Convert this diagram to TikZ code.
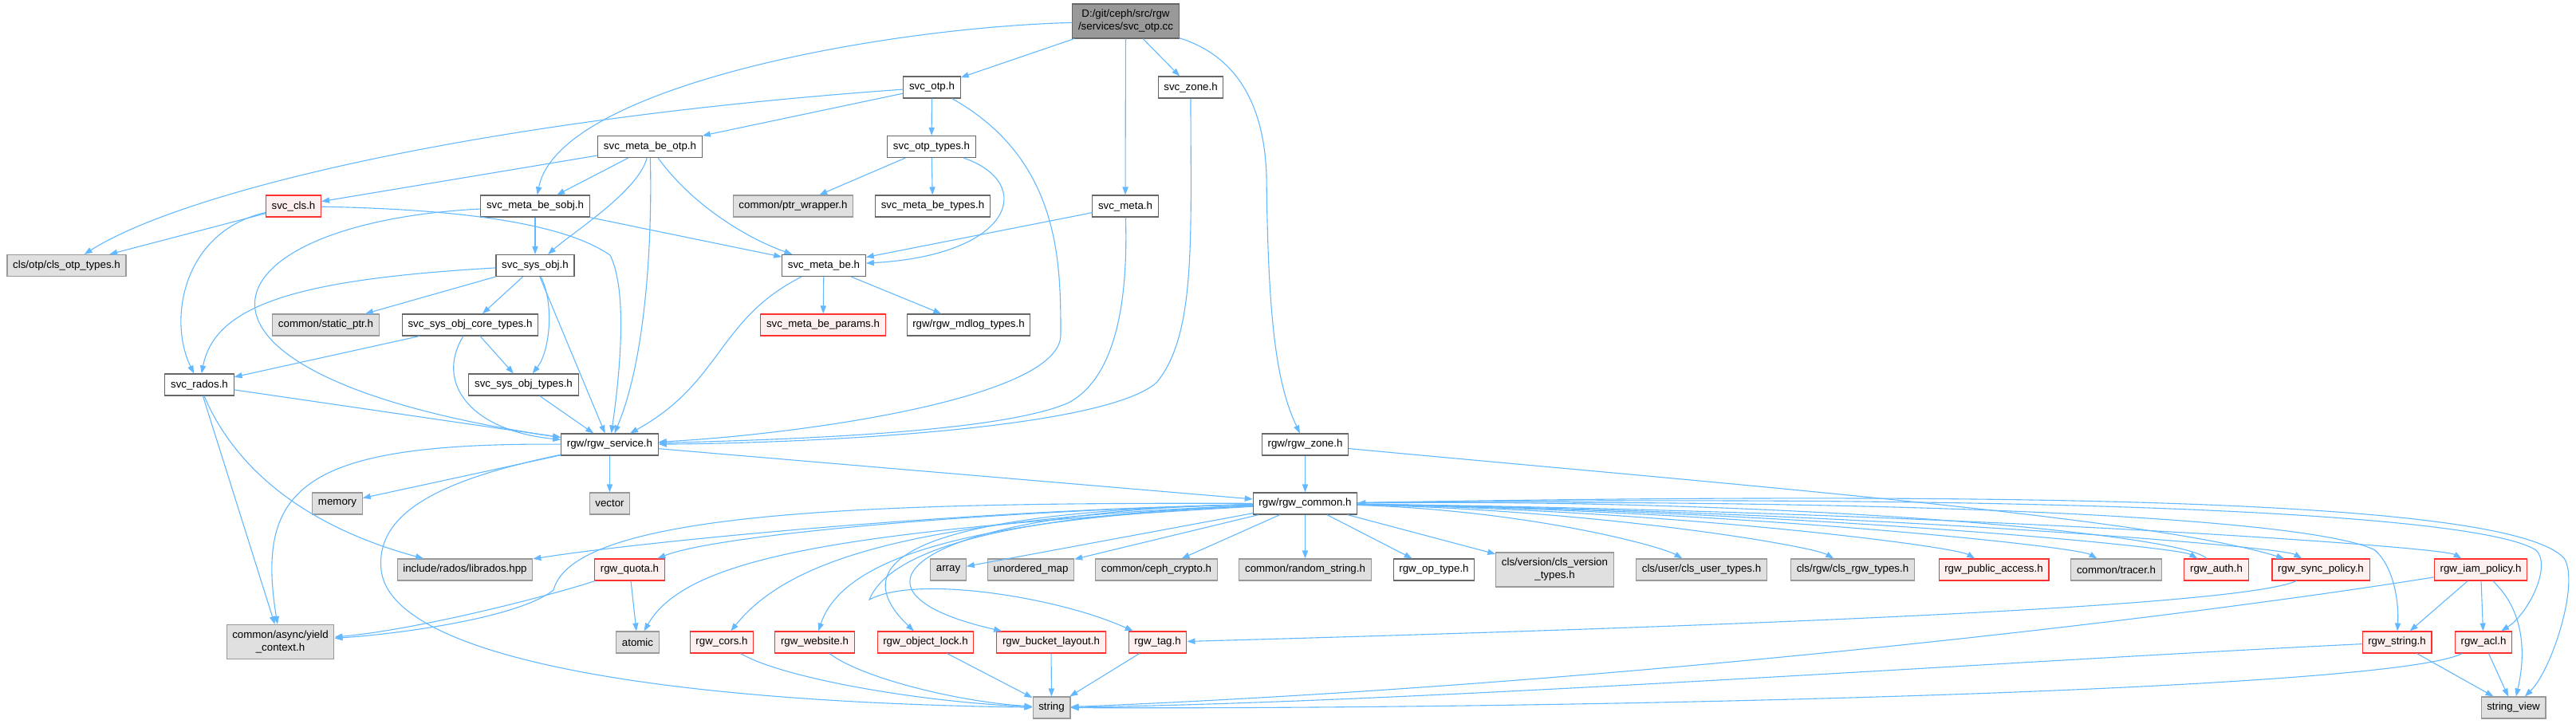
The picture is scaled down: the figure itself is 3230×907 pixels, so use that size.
\documentclass[tikz,border=0pt]{standalone}
\usepackage{fontspec}
\setmainfont{Liberation Sans}
\usetikzlibrary{arrows.meta}

\definecolor{edgeblue}{HTML}{63B8FF}
\definecolor{boxdraw}{HTML}{666666}
\definecolor{sysfill}{HTML}{E0E0E0}
\definecolor{sysdraw}{HTML}{999999}
\definecolor{partfill}{HTML}{FFF0F0}
\definecolor{partdraw}{HTML}{FF3030}

\newcommand{\dgfont}{\fontsize{6.65}{8}\selectfont}

\tikzset{
  file/.style={draw=boxdraw, fill=white, font=\dgfont, minimum height=13.5pt,
    inner xsep=3.6pt, inner ysep=0pt, line width=0.55pt},
  sysfile/.style={file, draw=sysdraw, fill=sysfill},
  partial/.style={file, draw=partdraw, fill=partfill},
  rootfile/.style={file, fill=sysdraw, align=center, minimum height=21.5pt},
  twoline/.style={align=center, minimum height=21.5pt},
  edge/.style={draw=edgeblue, line width=0.55pt, -{Triangle[length=5pt,width=3.6pt]}},
}

\begin{document}
\begin{tikzpicture}[x=0.5pt,y=-0.5pt]
\useasboundingbox (0,0) rectangle (3230,907);

% Nodes, row by row
\node[rootfile] (root) at (1411.5,26.5) {D:/git/ceph/src/rgw\\/services/svc\_otp.cc};

\node[file] (otp) at (1168.5,109.5) {svc\_otp.h};
\node[file] (zone) at (1493,109.5) {svc\_zone.h};

\node[file] (mbeotp) at (815,184) {svc\_meta\_be\_otp.h};
\node[file] (otptypes) at (1168,184) {svc\_otp\_types.h};

\node[partial] (cls) at (368,258.5) {svc\_cls.h};
\node[file] (mbesobj) at (671,258.5) {svc\_meta\_be\_sobj.h};
\node[sysfile] (ptrwrap) at (994.5,258.5) {common/ptr\_wrapper.h};
\node[file] (mbetypes) at (1169.5,258.5) {svc\_meta\_be\_types.h};
\node[file] (meta) at (1411,258.5) {svc\_meta.h};

\node[sysfile] (clsotp) at (83.5,333) {cls/otp/cls\_otp\_types.h};
\node[file] (sysobj) at (671,333) {svc\_sys\_obj.h};
\node[file] (mbe) at (1033,333) {svc\_meta\_be.h};

\node[sysfile] (staticptr) at (408.5,407.5) {common/static\_ptr.h};
\node[file] (coretypes) at (589.5,407.5) {svc\_sys\_obj\_core\_types.h};
\node[partial] (mbeparams) at (1032,407.5) {svc\_meta\_be\_params.h};
\node[file] (mdlog) at (1214.5,407.5) {rgw/rgw\_mdlog\_types.h};

\node[file] (rados) at (250,482.5) {svc\_rados.h};
\node[file] (sysobjtypes) at (656.5,482.5) {svc\_sys\_obj\_types.h};

\node[file] (service) at (764.5,557.5) {rgw/rgw\_service.h};
\node[file] (rgwzone) at (1636.5,557.5) {rgw/rgw\_zone.h};

\node[sysfile] (memory) at (423,631.5) {memory};
\node[sysfile] (vector) at (764.5,631.5) {vector};
\node[file] (common) at (1636.5,631.5) {rgw/rgw\_common.h};

\node[sysfile] (librados) at (583,714.5) {include/rados/librados.hpp};
\node[partial] (quota) at (789.5,714.5) {rgw\_quota.h};
\node[sysfile] (array) at (1189,714.5) {array};
\node[sysfile] (umap) at (1292.5,714.5) {unordered\_map};
\node[sysfile] (crypto) at (1450,714.5) {common/ceph\_crypto.h};
\node[sysfile] (randstr) at (1636.5,714.5) {common/random\_string.h};
\node[file] (optype) at (1798,714.5) {rgw\_op\_type.h};
\node[sysfile, twoline] (clsver) at (1949.5,714.5) {cls/version/cls\_version\\\_types.h};
\node[sysfile] (clsuser) at (2133.5,714.5) {cls/user/cls\_user\_types.h};
\node[sysfile] (clsrgw) at (2323,714.5) {cls/rgw/cls\_rgw\_types.h};
\node[partial] (pubaccess) at (2500,714.5) {rgw\_public\_access.h};
\node[sysfile] (tracer) at (2653.5,714.5) {common/tracer.h};
\node[partial] (auth) at (2779,714.5) {rgw\_auth.h};
\node[partial] (sync) at (2910,714.5) {rgw\_sync\_policy.h};
\node[partial] (iam) at (3110.5,714.5) {rgw\_iam\_policy.h};

\node[sysfile, twoline] (yield) at (351.5,805) {common/async/yield\\\_context.h};
\node[sysfile] (atomic) at (799.5,805.5) {atomic};
\node[partial] (cors) at (905,805.5) {rgw\_cors.h};
\node[partial] (website) at (1021.5,805.5) {rgw\_website.h};
\node[partial] (objlock) at (1160.5,805.5) {rgw\_object\_lock.h};
\node[partial] (bucketlayout) at (1318,805.5) {rgw\_bucket\_layout.h};
\node[partial] (tag) at (1451.5,805.5) {rgw\_tag.h};
\node[partial] (rgwstring) at (3005.5,805.5) {rgw\_string.h};
\node[partial] (acl) at (3114,805.5) {rgw\_acl.h};

\node[sysfile] (str) at (1318.5,887.5) {string};
\node[sysfile] (strview) at (3151.5,887.5) {string\_view};

% svc_otp.cc
\draw[edge] (root) -- (otp);
\draw[edge] (root) .. controls (1100,35) and (700,110) .. (mbesobj);
\draw[edge] (root) -- (meta);
\draw[edge] (root) -- (zone);
\draw[edge] (root) .. controls (1550,70) and (1585,130) .. (1588,220) .. controls (1590,400) and (1600,480) .. (rgwzone);

% svc_otp.h
\draw[edge] (otp) .. controls (600,150) and (230,240) .. (clsotp);
\draw[edge] (otp) -- (mbeotp);
\draw[edge] (otp) -- (otptypes);
\draw[edge] (otp) .. controls (1330,200) and (1330,330) .. (1330,420) .. controls (1330,500) and (1000,545) .. (service);

% svc_otp_types.h
\draw[edge] (otptypes) -- (ptrwrap);
\draw[edge] (otptypes) -- (mbetypes);
\draw[edge] (otptypes) .. controls (1300,230) and (1270,320) .. (mbe);

% svc_meta_be_otp.h
\draw[edge] (mbeotp) -- (cls);
\draw[edge] (mbeotp) -- (mbesobj);
\draw[edge] (mbeotp) .. controls (800,240) and (720,290) .. (sysobj);
\draw[edge] (mbeotp) .. controls (818,300) and (810,450) .. (service);
\draw[edge] (mbeotp) .. controls (870,260) and (940,300) .. (mbe);

% svc_cls.h
\draw[edge] (cls) -- (clsotp);
\draw[edge] (cls) .. controls (230,290) and (210,400) .. (rados);
\draw[edge] (cls) .. controls (550,262) and (700,275) .. (765,320) .. controls (785,360) and (780,450) .. (service);

% svc_meta_be_sobj.h
\draw[edge] (mbesobj) -- (sysobj);
\draw[edge] (mbesobj) -- (mbe);
\draw[edge] (mbesobj) .. controls (250,280) and (170,470) .. (service);

% svc_sys_obj.h
\draw[edge] (sysobj) .. controls (380,350) and (270,380) .. (rados);
\draw[edge] (sysobj) -- (staticptr);
\draw[edge] (sysobj) -- (coretypes);
\draw[edge] (sysobj) .. controls (695,380) and (690,440) .. (sysobjtypes);
\draw[edge] (sysobj) -- (service);

% svc_sys_obj_core_types.h
\draw[edge] (coretypes) -- (rados);
\draw[edge] (coretypes) -- (sysobjtypes);
\draw[edge] (coretypes) .. controls (545,480) and (590,540) .. (service);
\draw[edge] (sysobjtypes) -- (service);

% svc_meta_be.h, svc_meta.h, svc_zone.h
\draw[edge] (mbe) -- (mbeparams);
\draw[edge] (mbe) -- (mdlog);
\draw[edge] (mbe) .. controls (900,400) and (905,480) .. (service);
\draw[edge] (meta) -- (mbe);
\draw[edge] (meta) .. controls (1414,360) and (1405,470) .. (1340,505) .. controls (1250,545) and (950,552) .. (service);
\draw[edge] (zone) .. controls (1493,300) and (1500,420) .. (1450,480) .. controls (1380,540) and (1000,556) .. (service);

% svc_rados.h
\draw[edge] (rados) -- (service);
\draw[edge] (rados) .. controls (300,600) and (400,665) .. (librados);
\draw[edge] (rados) -- (yield);

% rgw_service.h
\draw[edge] (service) .. controls (380,555) and (320,610) .. (yield);
\draw[edge] (service) -- (memory);
\draw[edge] (service) -- (vector);
\draw[edge] (service) .. controls (560,600) and (470,640) .. (478,715) .. controls (490,820) and (800,880) .. (str);
\draw[edge] (service) -- (common);

% rgw_zone.h
\draw[edge] (rgwzone) -- (common);
\draw[edge] (rgwzone) .. controls (2200,610) and (2700,650) .. (sync);

% rgw_common.h, straight down
\foreach \t in {array,umap,crypto,randstr,optype,clsver}
  \draw[edge] (common) -- (\t);

% rgw_common.h, to the right
\foreach \t/\x in {clsuser/2133,clsrgw/2323,pubaccess/2500,tracer/2653,auth/2779,sync/2910,iam/3110}
  \draw[edge] (common) .. controls ({(\x+1700)/2},640) and ({\x-50},685) .. (\t);
\draw[edge] (auth) .. controls (2740,670) and (2250,625) .. (common);
\draw[edge] (common) .. controls (2400,625) and (2900,650) .. (2978,690) .. controls (3000,710) and (3008,750) .. (rgwstring);
\draw[edge] (common) .. controls (2500,620) and (3100,640) .. (3180,690) .. controls (3200,710) and (3170,770) .. (acl);
\draw[edge] (common) .. controls (2600,615) and (3150,630) .. (3215,700) .. controls (3235,730) and (3200,840) .. (strview);

% rgw_common.h, to the left
\draw[edge] (common) .. controls (1200,640) and (800,680) .. (librados);
\draw[edge] (common) .. controls (1250,640) and (900,670) .. (quota);
\draw[edge] (common) .. controls (1100,630) and (720,640) .. (694,740) .. controls (650,775) and (500,795) .. (yield);
\draw[edge] (common) .. controls (1050,665) and (860,700) .. (atomic);
\draw[edge] (common) .. controls (1150,650) and (990,700) .. (cors);
\draw[edge] (common) .. controls (1250,650) and (1060,690) .. (website);
\draw[edge] (common) .. controls (1200,640) and (1040,690) .. (objlock);
\draw[edge] (common) .. controls (1150,640) and (1030,740) .. (bucketlayout);
\draw[edge] (common) .. controls (1300,645) and (1120,680) .. (1090,752) .. controls (1150,720) and (1330,750) .. (tag);

% rgw_quota.h
\draw[edge] (quota) .. controls (680,750) and (520,790) .. (yield);
\draw[edge] (quota) -- (atomic);

% into string
\draw[edge] (cors) .. controls (980,850) and (1150,880) .. (str);
\draw[edge] (website) .. controls (1080,850) and (1200,880) .. (str);
\foreach \s in {objlock,bucketlayout,tag}
  \draw[edge] (\s) -- (str);

% right-hand headers
\draw[edge] (sync) .. controls (2800,765) and (2000,790) .. (tag);
\draw[edge] (iam) -- (rgwstring);
\draw[edge] (iam) -- (acl);
\draw[edge] (iam) .. controls (3170,770) and (3165,830) .. (strview);
\draw[edge] (iam) .. controls (2700,780) and (2000,860) .. (str);
\draw[edge] (rgwstring) -- (strview);
\draw[edge] (rgwstring) .. controls (2500,830) and (1800,880) .. (str);
\draw[edge] (acl) -- (strview);
\draw[edge] (acl) .. controls (3000,865) and (2000,890) .. (str);

\end{tikzpicture}
\end{document}
